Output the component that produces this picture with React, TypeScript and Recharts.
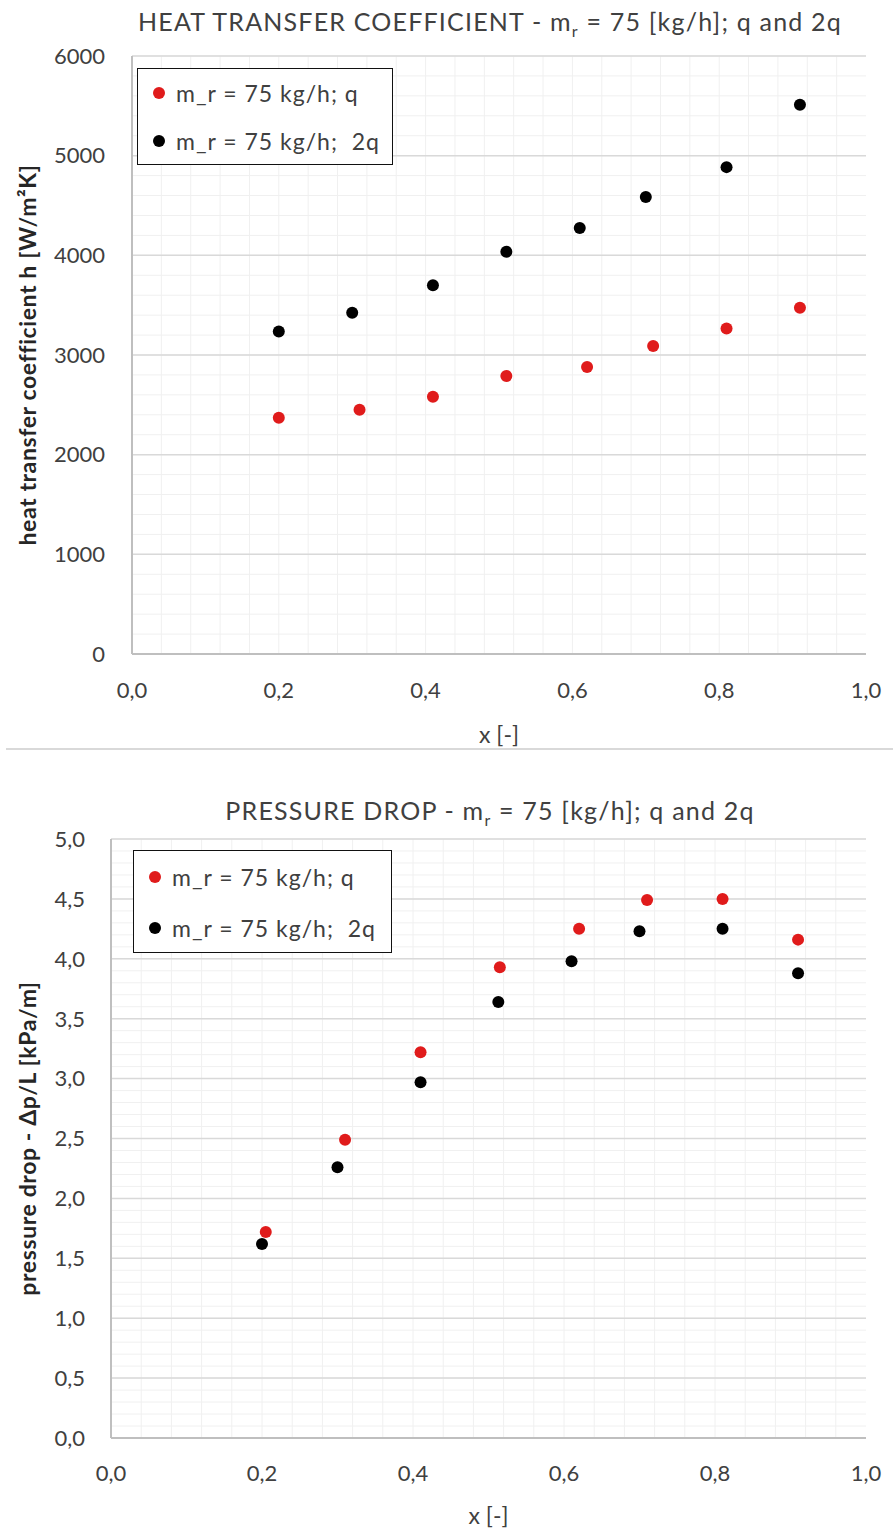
import React from "react";
import { ScatterChart, Scatter, XAxis, YAxis, CartesianGrid, Legend } from "recharts";

const FONT = "Lato, 'Open Sans', sans-serif";
const RED = "#e01b1b";
const BLACK = "#000000";

// heat transfer coefficient h [W/m2K]
const htcXq = [0.2, 0.31, 0.41, 0.51, 0.62, 0.71, 0.81, 0.91];
const htcQ = [2370, 2450, 2580, 2790, 2880, 3090, 3265, 3475];
const htcX2q = [0.2, 0.3, 0.41, 0.51, 0.61, 0.7, 0.81, 0.91];
const htc2Q = [3235, 3425, 3700, 4035, 4275, 4585, 4885, 5510];

// pressure drop dp/L [kPa/m]
const dpXq = [0.205, 0.31, 0.41, 0.515, 0.62, 0.71, 0.81, 0.91];
const dpQ = [1.72, 2.49, 3.22, 3.93, 4.25, 4.49, 4.5, 4.16];
const dpX2q = [0.2, 0.3, 0.41, 0.513, 0.61, 0.7, 0.81, 0.91];
const dp2Q = [1.62, 2.26, 2.97, 3.64, 3.98, 4.23, 4.25, 3.88];

const xTicks = [0, 0.2, 0.4, 0.6, 0.8, 1];
const htcTicks = [0, 1000, 2000, 3000, 4000, 5000, 6000];
const dpTicks = [0, 0.5, 1, 1.5, 2, 2.5, 3, 3.5, 4, 4.5, 5];

const seriesNames = ["m_r = 75 kg/h; q", "m_r = 75 kg/h;  2q"];

const pts = (xs: number[], ys: number[]) => xs.map((x, i) => ({ x, y: ys[i] }));

// minor gridline positions
function steps(from: number, to: number, step: number) {
  const out: number[] = [];
  for (let v = from; v <= to + 1e-9; v += step) out.push(Math.round(v * 1000) / 1000);
  return out;
}

const comma = (v: number) => v.toFixed(1).replace(".", ",");

const dot = (fill: string) => (p: any) => <circle cx={p.cx} cy={p.cy} r={6} fill={fill} />;

function LegendBox({ payload, w, h, rowH }: any) {
  // keep series order (recharts sorts by name)
  const items = [...(payload || [])].sort((a: any, b: any) => seriesNames.indexOf(a.value) - seriesNames.indexOf(b.value));
  return (
    <div style={{ width: w, height: h, border: "1.5px solid #111", background: "#fff", boxSizing: "border-box", fontFamily: FONT }}>
      {items.map((e: any, i: number) => (
        <div key={i} style={{ height: rowH, display: "flex", alignItems: "center" }}>
          <span style={{ display: "inline-block", width: 12, height: 12, borderRadius: 6, background: e.color, marginLeft: 15, marginRight: 11 }} />
          <span style={{ fontSize: 23, letterSpacing: 1, color: "#404040", whiteSpace: "pre" }}>{e.value}</span>
        </div>
      ))}
    </div>
  );
}

type PanelProps = {
  height: number;
  margin: { top: number; right: number; bottom: number; left: number };
  yWidth: number;
  yDomain: [number, number];
  yTicks: number[];
  yFmt: (v: number) => string;
  yMinor: number[];
  yTickMargin: number;
  xTickMargin: number;
  xLabelDy: number;
  yLabel: string;
  redData: { x: number; y: number }[];
  blackData: { x: number; y: number }[];
  legend: { left: number; top: number; w: number; h: number; rowH: number };
};

function Panel(p: PanelProps) {
  return (
    <ScatterChart width={893} height={p.height} margin={p.margin}>
      <CartesianGrid horizontalValues={p.yMinor} verticalValues={steps(0.04, 0.96, 0.04)} stroke="#f0f0f0" strokeWidth={1} />
      <CartesianGrid vertical={false} stroke="#d9d9d9" strokeWidth={1.5} />
      <XAxis
        type="number"
        dataKey="x"
        domain={[0, 1]}
        ticks={xTicks}
        interval={0}
        tickFormatter={comma}
        tickLine={false}
        tickSize={0}
        tickMargin={p.xTickMargin}
        axisLine={{ stroke: "#bfbfbf", strokeWidth: 2 }}
        tick={{ fontSize: 22, fill: "#404040", fontFamily: FONT }}
        height={60}
        label={(lp: any) => {
          const vb = lp.viewBox;
          return (
            <text x={vb.x + vb.width / 2} y={vb.y + p.xLabelDy} textAnchor="middle" dominantBaseline="central" fontSize={23} fill="#404040" fontFamily={FONT}>
              x [-]
            </text>
          );
        }}
      />
      <YAxis
        type="number"
        dataKey="y"
        domain={p.yDomain}
        ticks={p.yTicks}
        interval={0}
        tickFormatter={p.yFmt}
        tickLine={false}
        tickSize={0}
        tickMargin={p.yTickMargin}
        axisLine={{ stroke: "#bfbfbf", strokeWidth: 2 }}
        tick={{ fontSize: 22, fill: "#404040", fontFamily: FONT }}
        width={p.yWidth}
        label={(lp: any) => {
          const vb = lp.viewBox;
          const cx = 27;
          const cy = vb.y + vb.height / 2;
          return (
            <text x={cx} y={cy} transform={`rotate(-90, ${cx}, ${cy})`} textAnchor="middle" dominantBaseline="central" fontSize={23} letterSpacing={0.6} fontWeight="bold" fill="#262626" fontFamily={FONT}>
              {p.yLabel}
            </text>
          );
        }}
      />
      <Legend
        layout="vertical"
        align="center"
        verticalAlign="middle"
        wrapperStyle={{ left: p.legend.left, top: p.legend.top, width: p.legend.w, height: p.legend.h }}
        content={(lp: any) => <LegendBox payload={lp.payload} w={p.legend.w} h={p.legend.h} rowH={p.legend.rowH} />}
      />
      <Scatter name={seriesNames[0]} data={p.redData} fill={RED} shape={dot(RED)} isAnimationActive={false} />
      <Scatter name={seriesNames[1]} data={p.blackData} fill={BLACK} shape={dot(BLACK)} isAnimationActive={false} />
    </ScatterChart>
  );
}

function Title({ top, children }: { top: number; children: React.ReactNode }) {
  return (
    <div style={{ position: "absolute", top, left: 0, width: 980, textAlign: "center", fontSize: 25, letterSpacing: 1.2, color: "#404040", fontFamily: FONT, lineHeight: "30px", whiteSpace: "nowrap" }}>
      {children}
    </div>
  );
}

export default function App() {
  return (
    <div style={{ position: "absolute", left: 0, top: 0, width: 893, height: 1529, background: "#fff", overflow: "hidden", fontFamily: FONT }}>
      <div style={{ position: "absolute", left: 0, top: 0 }}>
        <Panel
          height={750}
          margin={{ top: 56, right: 27, bottom: 36, left: 0 }}
          yWidth={132}
          yDomain={[0, 6000]}
          yTicks={htcTicks}
          yFmt={(v) => String(v)}
          yMinor={steps(200, 6000, 200)}
          yTickMargin={27}
          xTickMargin={28}
          xLabelDy={80}
          yLabel="heat transfer coefficient h [W/m²K]"
          redData={pts(htcXq, htcQ)}
          blackData={pts(htcX2q, htc2Q)}
          legend={{ left: 137, top: 68, w: 256, h: 97, rowH: 48 }}
        />
      </div>
      <Title top={6}>
        HEAT TRANSFER COEFFICIENT - m<sub style={{ fontSize: 16 }}>r</sub> = 75 [kg/h]; q and 2q
      </Title>
      <div style={{ position: "absolute", left: 6, top: 748, width: 887, height: 2, background: "#d9d9d9" }} />
      <div style={{ position: "absolute", left: 0, top: 750 }}>
        <Panel
          height={779}
          margin={{ top: 89, right: 27, bottom: 31, left: 0 }}
          yWidth={111}
          yDomain={[0, 5]}
          yTicks={dpTicks}
          yFmt={comma}
          yMinor={steps(0.1, 5, 0.1)}
          yTickMargin={26}
          xTickMargin={27}
          xLabelDy={77}
          yLabel="pressure drop - Δp/L [kPa/m]"
          redData={pts(dpXq, dpQ)}
          blackData={pts(dpX2q, dp2Q)}
          legend={{ left: 133, top: 100, w: 259, h: 103, rowH: 51 }}
        />
      </div>
      <Title top={795}>
        PRESSURE DROP - m<sub style={{ fontSize: 16 }}>r</sub> = 75 [kg/h]; q and 2q
      </Title>
    </div>
  );
}
